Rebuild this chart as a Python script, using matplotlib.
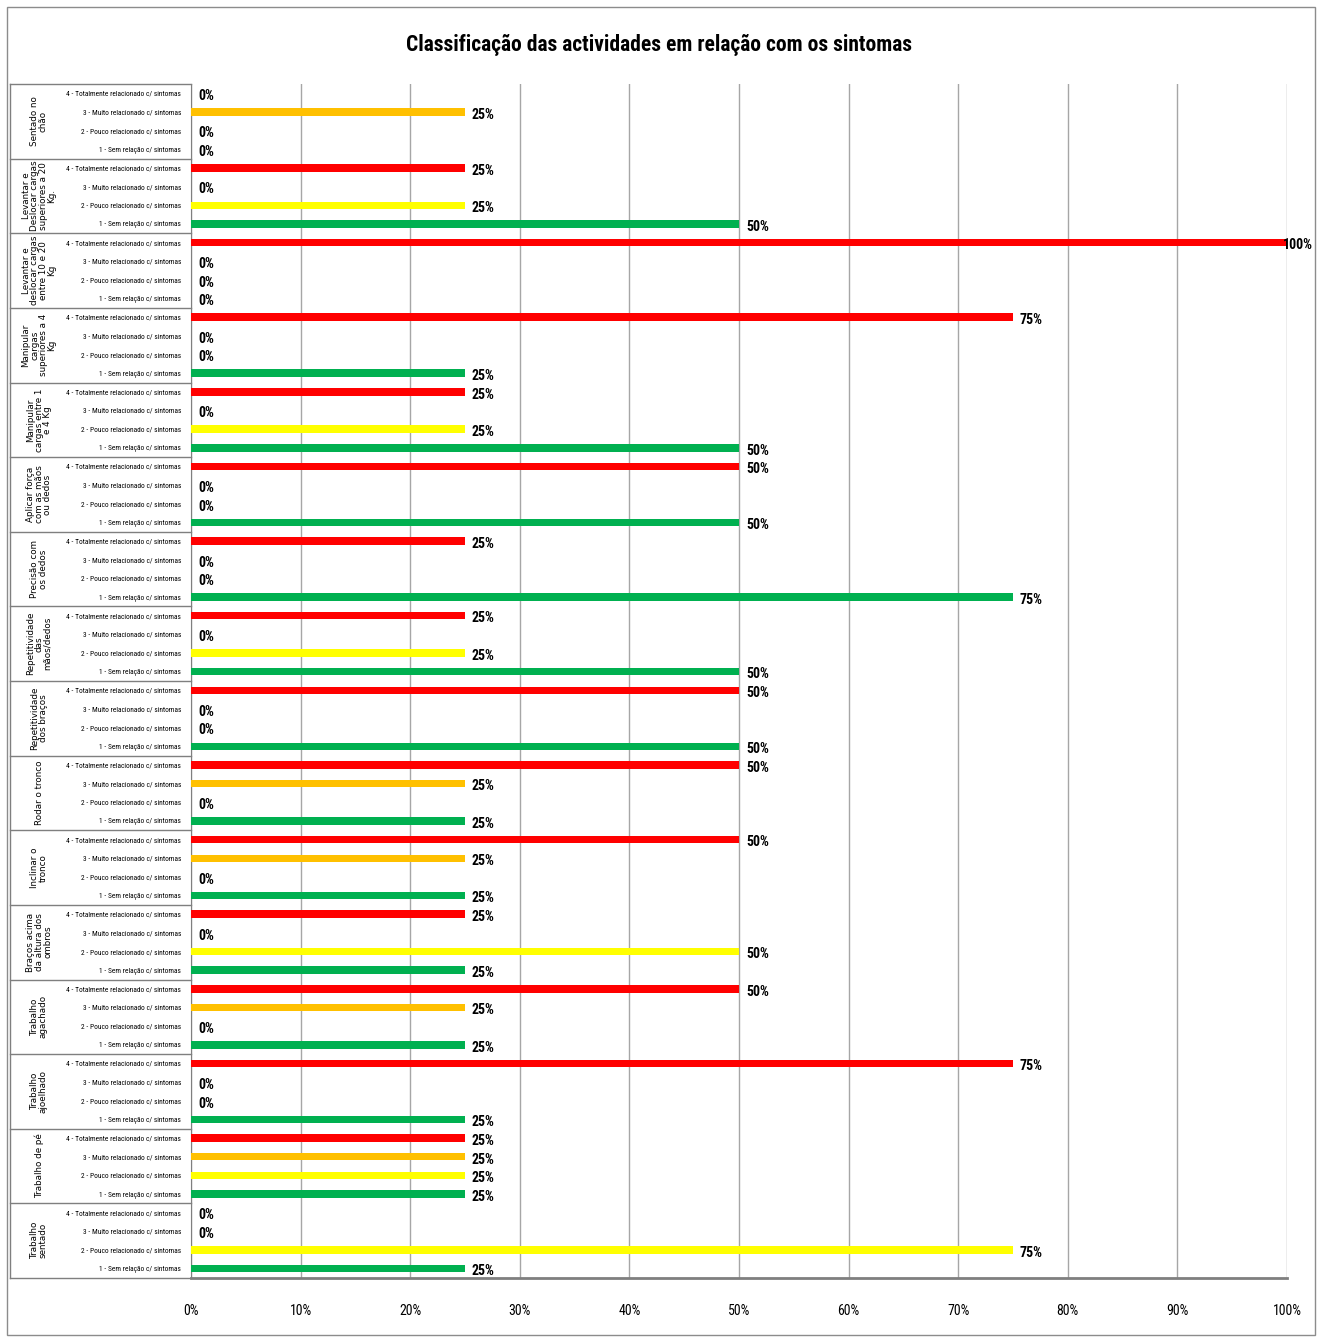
import matplotlib
matplotlib.use("Agg")
import matplotlib.pyplot as plt
from matplotlib import font_manager
from matplotlib.patches import Rectangle

# pick a narrow face if one is around
_names = {f.name for f in font_manager.fontManager.ttflist}
NARROW = "DejaVu Sans"
for cand in ["Liberation Sans Narrow", "Roboto Condensed", "Open Sans Condensed",
             "Noto Sans Condensed"]:
    if cand in _names:
        NARROW = cand
        break
plt.rcParams["font.family"] = [NARROW, "DejaVu Sans"]
plt.rcParams["font.stretch"] = "condensed"

title = "Classificação das actividades em relação com os sintomas"

activities = [
    "Sentado no\nchão",
    "Levantar e\nDeslocar cargas\nsuperiores a 20\nKg.",
    "Levantar e\ndeslocar cargas\nentre 10 e 20\nKg",
    "Manipular\ncargas\nsuperiores a 4\nKg",
    "Manipular\ncargas entre 1\ne 4 Kg",
    "Aplicar força\ncom as mãos\nou dedos",
    "Precisão com\nos dedos",
    "Repetitividade\ndas\nmãos/dedos",
    "Repetitividade\ndos braços",
    "Rodar o tronco",
    "Inclinar o\ntronco",
    "Braços acima\nda altura dos\nombros",
    "Trabalho\nagachado",
    "Trabalho\najoelhado",
    "Trabalho de pé",
    "Trabalho\nsentado",
]

levels = [
    "4 - Totalmente relacionado c/ sintomas",
    "3 - Muito relacionado c/ sintomas",
    "2 - Pouco relacionado c/ sintomas",
    "1 - Sem relação c/ sintomas",
]
level_colors = ["#FF0000", "#FFC000", "#FFFF00", "#00B050"]

# percentages per activity, in the order of `levels` (4, 3, 2, 1)
totalmente = [0, 25, 100, 75, 25, 50, 25, 25, 50, 50, 50, 25, 50, 75, 25, 0]
muito      = [25, 0, 0, 0, 0, 0, 0, 0, 0, 25, 25, 0, 25, 0, 25, 0]
pouco      = [0, 25, 0, 0, 25, 0, 0, 25, 0, 0, 0, 50, 0, 0, 25, 75]
sem        = [0, 50, 0, 25, 50, 50, 75, 50, 50, 25, 25, 25, 25, 25, 25, 25]

series = [totalmente, muito, pouco, sem]

fig = plt.figure(figsize=(13.22, 13.40), dpi=100)
ax = fig.add_axes([191 / 1322, 1 - 1278 / 1340, 1096 / 1322, 1194 / 1340])

n_lev = len(levels)
ypos, vals, cols, ticklabels = [], [], [], []
for g in range(len(activities)):
    for k in range(n_lev):
        ypos.append(g * n_lev + k)
        vals.append(series[k][g])
        cols.append(level_colors[k])
        ticklabels.append(levels[k])

ax.barh(ypos, vals, height=0.4, color=cols, zorder=3)
for y, v in zip(ypos, vals):
    dx = 5 if v < 100 else -3
    ax.annotate(f"{v}%", (v, y), xytext=(dx, -2), textcoords="offset points",
                ha="left", va="center", fontsize=10, fontweight="bold",
                zorder=4, annotation_clip=False)

ax.set_xlim(0, 100)
ax.set_ylim(len(ypos) - 0.5, -0.5)
ax.set_xticks(range(0, 101, 10))
ax.set_xticklabels([f"{t}%" for t in range(0, 101, 10)], fontsize=10)
ax.set_yticks(ypos)
ax.set_yticklabels(ticklabels, fontsize=5.3)
ax.tick_params(axis="x", length=0, pad=19)
ax.tick_params(axis="y", length=0, pad=7)

ax.grid(axis="x", color="#A6A6A6", lw=1, zorder=0)
for s in ["top", "right"]:
    ax.spines[s].set_visible(False)
ax.spines["left"].set_color("#7F7F7F")
ax.spines["bottom"].set_color("#7F7F7F")
ax.spines["bottom"].set_linewidth(2)

# category column: boxes and rotated names
trans = ax.get_yaxis_transform()
x_left = (10 - 191) / 1096
for g in range(len(activities) + 1):
    yb = g * n_lev - 0.5
    ax.plot([x_left, 0], [yb, yb], color="#7F7F7F", lw=1, transform=trans,
            clip_on=False)
ax.plot([x_left, x_left], [-0.5, len(ypos) - 0.5], color="#7F7F7F", lw=1,
        transform=trans, clip_on=False)
for g, name in enumerate(activities):
    ax.text((39 - 191) / 1096, g * n_lev + 1.5, name, transform=trans,
            rotation=90, ha="center", va="center", fontsize=6.3,
            family="DejaVu Sans", stretch="normal", linespacing=0.95)

fig.text(0.4985, 1 - 45 / 1340, title, ha="center", va="center",
         fontsize=15.5, fontweight="bold")

fig.patches.append(Rectangle((7 / 1322, 1 - 1335 / 1340), 1308 / 1322,
                             1328 / 1340, transform=fig.transFigure,
                             fill=False, edgecolor="#8C8C8C", lw=1))

fig.savefig("out.png", dpi=100)
